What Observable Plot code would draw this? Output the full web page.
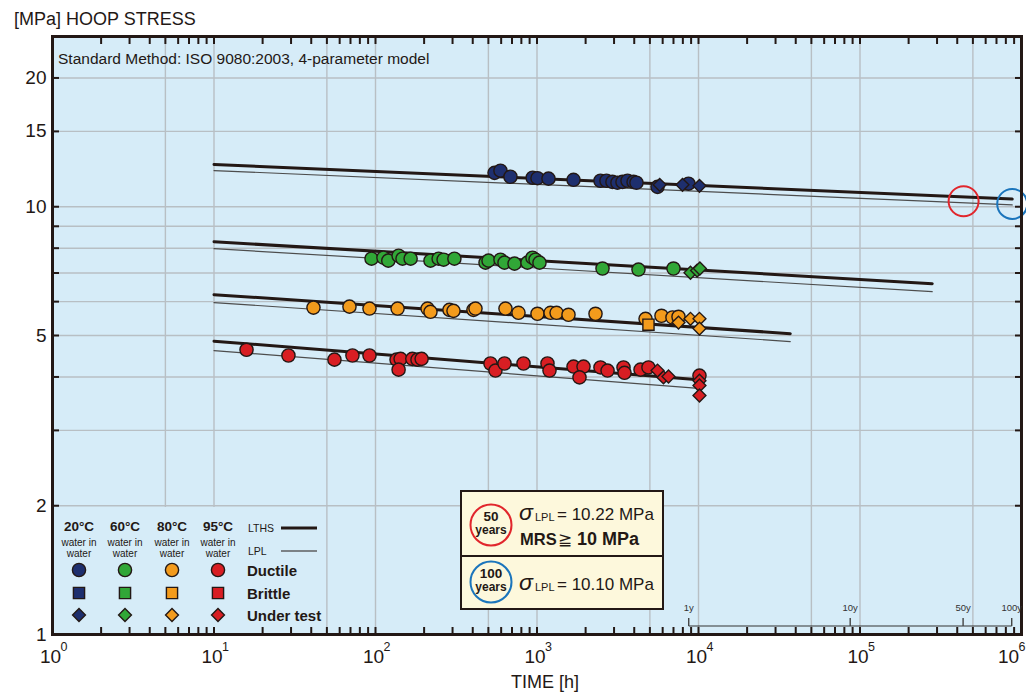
<!DOCTYPE html>
<html><head><meta charset="utf-8">
<script src="https://cdn.jsdelivr.net/npm/d3@7"></script>
<script src="https://cdn.jsdelivr.net/npm/@observablehq/plot@0.6"></script>
<style>
body{margin:0;background:#fff;}
#wrap{width:1026px;height:695px;overflow:hidden;}
</style></head><body><div id="wrap"></div>
<script>
// ---------------- data ----------------
const yTitle = "[MPa] HOOP STRESS";
const xTitle = "TIME [h]";
const methodNote = "Standard Method: ISO 9080:2003, 4-parameter model";
const temps = ["20°C", "60°C", "80°C", "95°C"];
const tempColors = ["#1e2f6e", "#31a737", "#f39b1c", "#d81e23"];
const medium = ["water in", "water"];
const modes = ["Ductile", "Brittle", "Under test"];
const decades = [1, 10, 100, 1000, 10000, 100000, 1000000];
const yTickLabels = [1, 2, 5, 10, 15, 20];
const yMinorTicks = [2, 3, 4, 5, 6, 7, 8, 9, 10, 15, 20];
const xGridValues = [1, 5, 10, 50, 100, 500, 1000, 5000, 10000, 50000, 100000, 500000, 1000000];
const yGridValues = [2, 3, 4, 5, 6, 7, 8, 9, 10, 15, 20];

// regression lines (LTHS / LPL) per temperature: [time h, stress MPa]
const lineStart = [10, 10, 10, 10];
const lineEnd = [876000, 280000, 37000, 10000];
const lthsStart = [12.55, 8.28, 6.23, 4.85];
const lthsEnd = [10.42, 6.61, 5.05, 3.94];
const lplStart = [12.15, 7.98, 5.97, 4.61];
const lplEnd = [10.10, 6.33, 4.84, 3.76];

// test results: [time h, stress MPa, mode] D=ductile, B=brittle, U=under test
const pts20 = [[546,12.0,"D"],[594,12.14,"D"],[685,11.75,"D"],[940,11.69,"D"],[1007,11.66,"D"],[1178,11.63,"D"],[1683,11.56,"D"],
  [2472,11.50,"D"],[2692,11.50,"D"],[2931,11.43,"D"],[3148,11.38,"D"],[3383,11.43,"D"],[3635,11.50,"D"],[3962,11.43,"D"],[4130,11.38,"D"],
  [5575,11.13,"D"],[8670,11.32,"D"],[5750,11.25,"U"],[7960,11.25,"U"],[10140,11.19,"U"]];
const pts60 = [[94.5,7.56,"D"],[112,7.60,"D"],[120,7.48,"D"],[139,7.68,"D"],[147,7.56,"D"],[165,7.56,"D"],[219,7.48,"D"],[246,7.56,"D"],
  [264,7.52,"D"],[308,7.56,"D"],[480,7.40,"D"],[501,7.48,"D"],[594,7.52,"D"],[629,7.40,"D"],[726,7.36,"D"],[873,7.40,"D"],[938,7.60,"D"],
  [979,7.52,"D"],[1036,7.40,"D"],[2545,7.17,"D"],[4250,7.13,"D"],[7000,7.17,"D"],[8920,7.01,"U"],[9800,7.09,"U"],[10200,7.17,"U"]];
const pts80 = [[41.3,5.81,"D"],[69,5.84,"D"],[91.8,5.78,"D"],[137,5.78,"D"],[210,5.78,"D"],[219,5.68,"D"],[287,5.74,"D"],[304,5.71,"D"],
  [404,5.74,"D"],[416,5.78,"D"],[638,5.78,"D"],[768,5.65,"D"],[1007,5.62,"D"],[1213,5.65,"D"],[1322,5.65,"D"],[1567,5.59,"D"],[2303,5.62,"D"],
  [4700,5.47,"D"],[5900,5.56,"D"],[6900,5.51,"D"],[7520,5.53,"D"],[4900,5.30,"B"],
  [7520,5.36,"U"],[8920,5.47,"U"],[10140,5.47,"U"],[10140,5.19,"U"]];
const pts95 = [[15.9,4.63,"D"],[28.9,4.49,"D"],[55.7,4.39,"D"],[72,4.49,"D"],[91.8,4.49,"D"],[135,4.39,"D"],[143,4.41,"D"],[139,4.16,"D"],
  [169,4.41,"D"],[182,4.39,"D"],[193,4.41,"D"],[515,4.30,"D"],[553,4.14,"D"],[629,4.30,"D"],[825,4.30,"D"],[1161,4.30,"D"],[1195,4.14,"D"],
  [1683,4.23,"D"],[1941,4.23,"D"],[1833,3.99,"D"],[2472,4.21,"D"],[2735,4.14,"D"],[3433,4.21,"D"],[3483,4.09,"D"],[4375,4.16,"D"],
  [4900,4.21,"D"],[10140,4.03,"D"],[5575,4.14,"U"],[6070,3.99,"U"],[6520,4.01,"U"],[10140,3.92,"U"],[10140,3.82,"U"],[10140,3.62,"U"]];

// 50 / 100 year extrapolation markers
const mrsHours = [438000, 876000];
const mrsStress = [10.3, 10.15];
const mrsColors = ["#e1262c", "#1b75bc"];
const mrsYears = ["50", "100"];
const lplValues = ["10.22", "10.10"];

// secondary year axis
const yearLabels = ["1y", "10y", "50y", "100y"];
const yearHours = [8760, 87600, 438000, 876000];

// ---------------- build ----------------
const FONT = '"Liberation Sans", Arial, Helvetica, sans-serif';
const INK = "#231815";
const BG = "#d6ecf8";
const GRID = "#b8bfc4";

const lthsRows = temps.flatMap((tp, i) => [{t: lineStart[i], s: lthsStart[i], temp: tp}, {t: lineEnd[i], s: lthsEnd[i], temp: tp}]);
const lplRows = temps.flatMap((tp, i) => [{t: lineStart[i], s: lplStart[i], temp: tp}, {t: lineEnd[i], s: lplEnd[i], temp: tp}]);
const allPts = [pts20, pts60, pts80, pts95].flatMap((arr, i) => arr.map(([t, s, m]) => ({t, s, m, c: tempColors[i]})));
const mrsRows = mrsHours.map((t, i) => ({t, s: mrsStress[i], c: mrsColors[i]}));
const minorX = d3.range(0, 6).flatMap(k => d3.range(1, 10).map(m => m * 10 ** k)).concat([1e6]);
const innerDecades = decades.slice(0, -1);
const lastDecade = decades.slice(-1);

const tickOpts = {tickFormat: () => "", label: null, stroke: INK, strokeWidth: 2};
const expText = d => String(Math.round(Math.log10(d)));

const plot = Plot.plot({
  width: 1026, height: 695,
  marginLeft: 52, marginRight: 5, marginTop: 36, marginBottom: 61,
  style: {fontFamily: FONT, background: "transparent", color: INK},
  x: {type: "log", domain: [1, 1e6]},
  y: {type: "log", domain: [1, 25]},
  color: {type: "identity"},
  marks: [
    Plot.frame({fill: BG, stroke: null}),
    Plot.gridX(xGridValues, {stroke: GRID, strokeOpacity: 1, strokeWidth: 1.4}),
    Plot.gridY(yGridValues, {stroke: GRID, strokeOpacity: 1, strokeWidth: 1.4}),
    Plot.line(lplRows, {x: "t", y: "s", z: "temp", stroke: "#4d4d4d", strokeWidth: 1.2}),
    Plot.line(lthsRows, {x: "t", y: "s", z: "temp", stroke: INK, strokeWidth: 3}),
    Plot.dot(mrsRows, {x: "t", y: "s", r: 15, stroke: "c", fill: "none", strokeWidth: 2}),
    Plot.dot(allPts.filter(d => d.m === "D"), {x: "t", y: "s", fill: "c", stroke: INK, strokeWidth: 1.4, r: 6.6, symbol: "circle"}),
    Plot.dot(allPts.filter(d => d.m === "B"), {x: "t", y: "s", fill: "c", stroke: INK, strokeWidth: 1.4, r: 6.3, symbol: "square"}),
    Plot.dot(allPts.filter(d => d.m === "U"), {x: "t", y: "s", fill: "c", stroke: INK, strokeWidth: 1.4, r: 5.8, symbol: "diamond2"}),
    Plot.axisX({anchor: "bottom", ticks: minorX, tickSize: -7, ...tickOpts}),
    Plot.axisX({anchor: "top", ticks: minorX, tickSize: -7, ...tickOpts}),
    Plot.axisY({anchor: "left", ticks: yMinorTicks, tickSize: -7, ...tickOpts}),
    Plot.axisY({anchor: "right", ticks: yMinorTicks, tickSize: -7, ...tickOpts}),
    Plot.axisY({anchor: "left", ticks: yTickLabels, tickSize: 0, tickPadding: 6, fontSize: 19, tickFormat: d => String(d), label: null, fill: INK}),
    Plot.text(innerDecades, {x: d => d, frameAnchor: "bottom", dy: 28, dx: -2, text: () => "10", fontSize: 19, fill: INK}),
    Plot.text(innerDecades, {x: d => d, frameAnchor: "bottom", dy: 16, dx: 8, text: expText, fontSize: 12.5, textAnchor: "start", fill: INK}),
    Plot.text(lastDecade, {x: d => d, frameAnchor: "bottom", dy: 28, dx: -13, text: () => "10", fontSize: 19, fill: INK}),
    Plot.text(lastDecade, {x: d => d, frameAnchor: "bottom", dy: 16, dx: -3, text: expText, fontSize: 12.5, textAnchor: "start", fill: INK}),
    Plot.frame({stroke: INK, strokeWidth: 3})
  ]
});
document.getElementById("wrap").appendChild(plot);

// ---------------- annotations ----------------
const xs = plot.scale("x");
const svg = d3.select(plot);
const g = svg.append("g").attr("font-family", FONT).attr("fill", INK).attr("text-anchor", "start");
const txt = (x, y, s, size, opts = {}) => {
  const t = g.append("text").attr("x", x).attr("y", y).attr("font-size", size).attr("text-anchor", "start").text(s);
  for (const [k, v] of Object.entries(opts)) t.attr(k, v);
  return t;
};

txt(14, 25, yTitle, 18);
txt(545, 688, xTitle, 18, {"text-anchor": "middle"});
txt(58, 64, methodNote, 15.5);

// secondary year axis
const yrY = 626;
g.append("line").attr("x1", xs.apply(yearHours[0])).attr("x2", xs.apply(yearHours[yearHours.length - 1]))
  .attr("y1", yrY).attr("y2", yrY).attr("stroke", "#333").attr("stroke-width", 1.2);
yearHours.forEach((h, i) => {
  const x = xs.apply(h);
  g.append("line").attr("x1", x).attr("x2", x).attr("y1", yrY - 8).attr("y2", yrY).attr("stroke", "#444").attr("stroke-width", 1.4);
  txt(x, yrY - 15, yearLabels[i], 9.5, {"text-anchor": "middle", fill: "#333"});
});

// legend
g.append("rect").attr("x", 54).attr("y", 507).attr("width", 272).attr("height", 120).attr("fill", BG);
const legX = [79, 125, 172, 218];
const legY = [570, 593, 615];
const symTypes = [d3.symbolCircle, d3.symbolSquare, d3.symbolDiamond2];
const symR = [6.6, 6.3, 5.8];
temps.forEach((tp, i) => {
  txt(legX[i], 531, tp, 13.5, {"text-anchor": "middle", "font-weight": "bold"});
  txt(legX[i], 546, medium[0], 10, {"text-anchor": "middle"});
  txt(legX[i], 557, medium[1], 10, {"text-anchor": "middle"});
  symTypes.forEach((st, j) => {
    g.append("path").attr("d", d3.symbol(st, Math.PI * symR[j] ** 2)())
      .attr("transform", `translate(${legX[i]},${legY[j]})`)
      .attr("fill", tempColors[i]).attr("stroke", INK).attr("stroke-width", 1.4);
  });
});
modes.forEach((m, j) => txt(247, legY[j] + 5.5, m, 15, {"font-weight": "bold"}));
txt(248, 532, "LTHS", 10.5);
g.append("line").attr("x1", 281).attr("x2", 317).attr("y1", 528).attr("y2", 528).attr("stroke", INK).attr("stroke-width", 3);
txt(248, 555, "LPL", 10.5);
g.append("line").attr("x1", 281).attr("x2", 317).attr("y1", 551).attr("y2", 551).attr("stroke", INK).attr("stroke-width", 1);

// info box
g.append("rect").attr("x", 461).attr("y", 491).attr("width", 202).attr("height", 118)
  .attr("fill", "#fdf8dc").attr("stroke", INK).attr("stroke-width", 2);
g.append("line").attr("x1", 461).attr("x2", 663).attr("y1", 556).attr("y2", 556).attr("stroke", INK).attr("stroke-width", 2);
const boxCY = [525, 582];
const boxBase = [520, 590];
mrsYears.forEach((yr, i) => {
  g.append("circle").attr("cx", 491).attr("cy", boxCY[i]).attr("r", 20.5).attr("fill", "none")
    .attr("stroke", mrsColors[i]).attr("stroke-width", 2);
  txt(491, boxCY[i] - 4, yr, 13.5, {"text-anchor": "middle", "font-weight": "bold"});
  txt(491, boxCY[i] + 9, "years", 12, {"text-anchor": "middle", "font-weight": "bold"});
  txt(519, boxBase[i], "σ", 23, {"font-style": "italic"});
  txt(535, boxBase[i] + 1, "LPL", 11);
  txt(557, boxBase[i], "= " + lplValues[i] + " MPa", 17);
});
txt(520, 545, "MRS", 16.5, {"font-weight": "bold"});
txt(558, 545, "≧", 17);
txt(577, 545, "10 MPa", 18, {"font-weight": "bold"});
</script></body></html>
